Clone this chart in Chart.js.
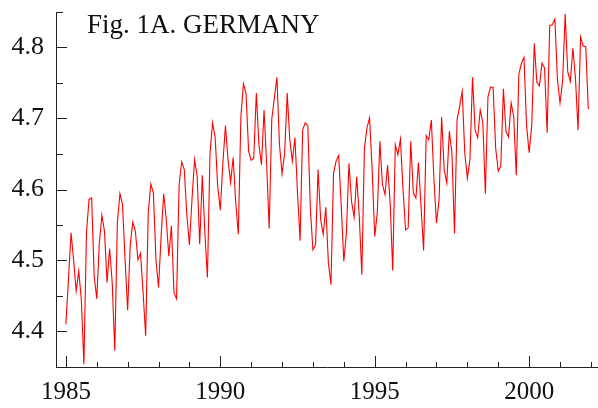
<!DOCTYPE html>
<html lang="en">

<head>
    <meta charset="UTF-8">
    <script src="https://cdn.jsdelivr.net/npm/chart.js"></script>
    <title>Fig. 1A. GERMANY</title>
    <style>
        body { margin: 0; background: #fff; }
        canvas { display: block; }
    </style>
</head>

<body>
    <canvas id="myChart" width="598" height="408"></canvas>
</body>

</html>
<script>
    // serie mensal, jan 1985 - dez 2001 (uma linha por ano)
    const firstYear = 1985
    const values = [
        4.410, 4.473, 4.539, 4.501, 4.457, 4.485, 4.445, 4.354, 4.539, 4.586, 4.588, 4.478,
        4.446, 4.525, 4.564, 4.541, 4.469, 4.517, 4.469, 4.373, 4.553, 4.594, 4.579, 4.501,
        4.430, 4.522, 4.554, 4.541, 4.501, 4.510, 4.455, 4.394, 4.567, 4.608, 4.595, 4.501,
        4.462, 4.534, 4.594, 4.558, 4.506, 4.549, 4.455, 4.446, 4.607, 4.639, 4.628, 4.564,
        4.522, 4.586, 4.642, 4.619, 4.523, 4.620, 4.539, 4.476, 4.651, 4.694, 4.673, 4.604,
        4.571, 4.637, 4.690, 4.642, 4.610, 4.645, 4.581, 4.537, 4.703, 4.749, 4.735, 4.654,
        4.641, 4.644, 4.736, 4.663, 4.635, 4.712, 4.637, 4.545, 4.699, 4.729, 4.758, 4.663,
        4.622, 4.651, 4.736, 4.670, 4.640, 4.673, 4.595, 4.528, 4.684, 4.694, 4.690, 4.572,
        4.515, 4.522, 4.628, 4.558, 4.537, 4.575, 4.497, 4.466, 4.623, 4.640, 4.648, 4.576,
        4.499, 4.539, 4.637, 4.583, 4.561, 4.618, 4.562, 4.480, 4.658, 4.687, 4.701, 4.628,
        4.534, 4.567, 4.668, 4.607, 4.593, 4.634, 4.581, 4.486, 4.663, 4.649, 4.671, 4.600,
        4.543, 4.546, 4.668, 4.595, 4.588, 4.638, 4.576, 4.514, 4.676, 4.670, 4.698, 4.615,
        4.553, 4.586, 4.702, 4.628, 4.609, 4.682, 4.651, 4.538, 4.698, 4.717, 4.738, 4.651,
        4.616, 4.642, 4.758, 4.684, 4.673, 4.712, 4.694, 4.594, 4.731, 4.744, 4.744, 4.658,
        4.626, 4.633, 4.742, 4.682, 4.674, 4.722, 4.703, 4.620, 4.762, 4.778, 4.786, 4.690,
        4.652, 4.689, 4.806, 4.751, 4.746, 4.778, 4.771, 4.680, 4.831, 4.832, 4.840, 4.755,
        4.722, 4.752, 4.847, 4.766, 4.752, 4.799, 4.757, 4.684, 4.815, 4.802, 4.801, 4.713
    ]
    const yearLabels = [1985, 1990, 1995, 2000]
    const yLabels = [4.4, 4.5, 4.6, 4.7, 4.8]
    const titulo = 'Fig. 1A. GERMANY'

    const fonte = '"Liberation Serif", "Times New Roman", serif'

    let pontos = values.map((v, i) => ({ x: firstYear + i / 12, y: v }))

    // ticks para dentro + titulo dentro do grafico
    const marcasInternas = {
        id: 'marcasInternas',
        afterDraw(chart) {
            const ctx = chart.ctx
            const area = chart.chartArea
            const sx = chart.scales.x
            const sy = chart.scales.y
            ctx.save()
            ctx.strokeStyle = '#222'
            ctx.lineWidth = 1
            ctx.beginPath()
            sx.ticks.forEach(t => {
                let px = Math.round(sx.getPixelForValue(t.value)) + 0.5
                let len = yearLabels.includes(Math.round(t.value)) ? 11 : 5
                ctx.moveTo(px, area.bottom)
                ctx.lineTo(px, area.bottom - len)
            })
            sy.ticks.forEach(t => {
                let py = Math.round(sy.getPixelForValue(t.value)) + 0.5
                let major = Math.round(t.value * 100) % 10 === 0
                ctx.moveTo(area.left, py)
                ctx.lineTo(area.left + (major ? 11 : 7), py)
            })
            ctx.stroke()

            ctx.fillStyle = '#111'
            ctx.font = '27px ' + fonte
            ctx.textBaseline = 'alphabetic'
            ctx.fillText(titulo, 87, 33)
            ctx.restore()
        }
    }

    const config = {
        type: 'line',
        data: {
            datasets: [{
                data: pontos,
                borderColor: '#ff0000',
                borderWidth: 1.1,
                pointRadius: 0,
                fill: false,
                tension: 0
            }]
        },
        options: {
            responsive: false,
            animation: false,
            devicePixelRatio: 1,
            layout: { padding: { top: 12, right: 0, left: 0, bottom: 0 } },
            plugins: { legend: { display: false }, tooltip: { enabled: false } },
            scales: {
                x: {
                    type: 'linear',
                    min: 1984.68,
                    max: 2002.23,
                    grid: { display: false },
                    border: { display: true, color: '#222', width: 1 },
                    ticks: {
                        stepSize: 1,
                        includeBounds: false,
                        autoSkip: false,
                        maxRotation: 0,
                        padding: 2,
                        color: '#111',
                        font: { family: fonte, size: 25 },
                        callback: v => yearLabels.includes(Math.round(v)) ? String(Math.round(v)) : ''
                    },
                    afterFit: s => { s.height = 41; s.paddingLeft = 0; s.paddingRight = 0 }
                },
                y: {
                    min: 4.35,
                    max: 4.85,
                    grid: { display: false },
                    border: { display: true, color: '#222', width: 1 },
                    ticks: {
                        stepSize: 0.05,
                        autoSkip: false,
                        padding: 4,
                        color: '#111',
                        font: { family: fonte, size: 26 },
                        callback: v => {
                            let r = Math.round(v * 10) / 10
                            return yLabels.includes(r) && Math.abs(v - r) < 0.001 ? r.toFixed(1) : ''
                        }
                    },
                    afterFit: s => { s.width = 56; s.paddingTop = 0; s.paddingBottom = 0 }
                }
            }
        },
        plugins: [marcasInternas]
    }

    let myChart = new Chart(document.getElementById('myChart'), config)
</script>
